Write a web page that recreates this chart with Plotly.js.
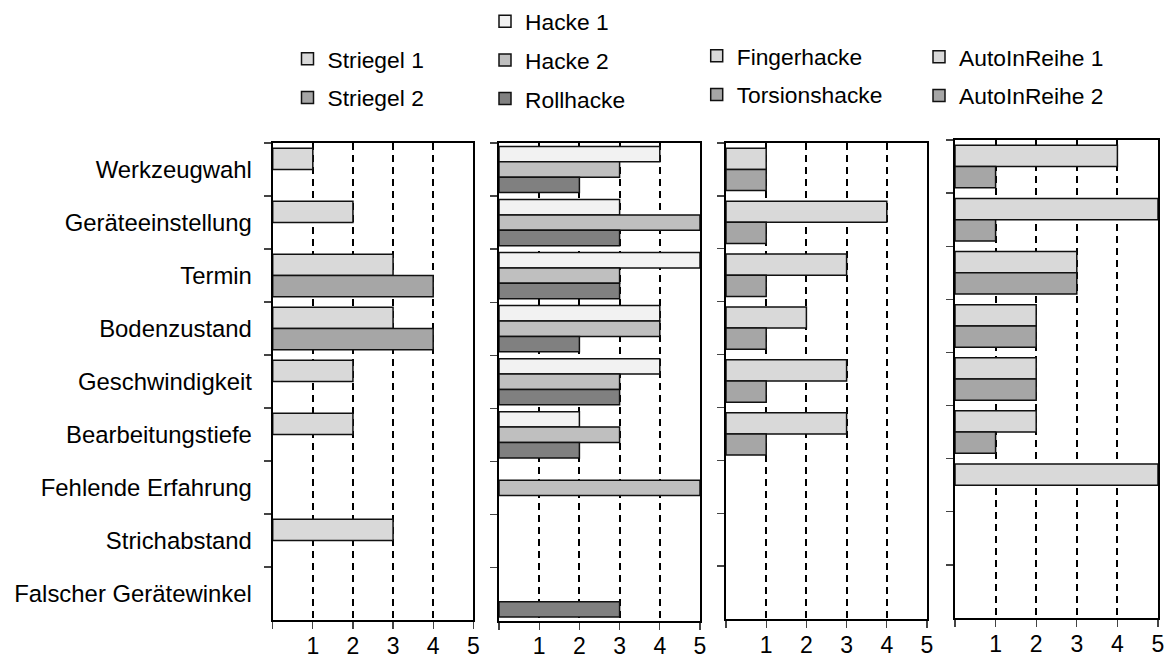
<!DOCTYPE html>
<html>
<head>
<meta charset="utf-8">
<script src="https://cdn.plot.ly/plotly-3.0.1.min.js"></script>
<style>
html,body{margin:0;padding:0;background:#fff;}
#chart{width:1171px;height:658px;}
</style>
</head>
<body>
<div id="chart"></div>
<script>
// ---- data ----
const categories = ["Werkzeugwahl","Geräteeinstellung","Termin","Bodenzustand","Geschwindigkeit","Bearbeitungstiefe","Fehlende Erfahrung","Strichabstand","Falscher Gerätewinkel"];
const xTickVals = [0,1,2,3,4,5];
const xTickText = ["","1","2","3","4","5"];

const striegel1 = [1,2,3,3,2,2,null,3,null];
const striegel2 = [null,null,4,4,null,null,null,null,null];

const hacke1    = [4,3,5,4,4,2,null,null,null];
const hacke2    = [3,5,3,4,3,3,5,null,null];
const rollhacke = [2,3,3,2,3,2,null,null,3];

const fingerhacke   = [1,4,3,2,3,3,null,null,null];
const torsionshacke = [1,1,1,1,1,1,null,null,null];

const autoInReihe1 = [4,5,3,2,2,2,5,null,null];
const autoInReihe2 = [1,1,3,2,2,1,null,null,null];

// ---- styling ----
const FONT = "Liberation Sans, Arial, sans-serif";
const C_LIGHT = "#d9d9d9", C_MID = "#a6a6a6", C_VLIGHT = "#f2f2f2", C_H2 = "#bfbfbf", C_DARK = "#808080";
const outline = {color:"#111", width:1.5};

function bar(name, vals, color, xa, ya, width, offset, legend){
  return {
    type:"bar", orientation:"h", name:name, x:vals, y:categories,
    xaxis:xa, yaxis:ya, width:width, offset:offset,
    marker:{color:color, line:outline},
    legend:legend, legendgroup:name, hoverinfo:"skip"
  };
}

const W2 = 0.4, W3 = 0.29;
const traces = [
  bar("Striegel 1", striegel1, C_LIGHT, "x", "y", W2, -0.4, "legend"),
  bar("Striegel 2", striegel2, C_MID, "x", "y", W2, 0, "legend"),
  bar("Hacke 1", hacke1, C_VLIGHT, "x2", "y2", W3, -0.435, "legend2"),
  bar("Hacke 2", hacke2, C_H2, "x2", "y2", W3, -0.145, "legend2"),
  bar("Rollhacke", rollhacke, C_DARK, "x2", "y2", W3, 0.145, "legend2"),
  bar("Fingerhacke", fingerhacke, C_LIGHT, "x3", "y3", W2, -0.4, "legend3"),
  bar("Torsionshacke", torsionshacke, C_MID, "x3", "y3", W2, 0, "legend3"),
  bar("AutoInReihe 1", autoInReihe1, C_LIGHT, "x4", "y4", W2, -0.4, "legend4"),
  bar("AutoInReihe 2", autoInReihe2, C_MID, "x4", "y4", W2, 0, "legend4")
];

const Wpx = 1171, Hpx = 658;
function xd(a,b){ return [a/Wpx, b/Wpx]; }
function yd(top,bottom){ return [1-bottom/Hpx, 1-top/Hpx]; }

function xaxis(dom, anchor){
  return {
    domain:dom, anchor:anchor, range:[0,5], fixedrange:true,
    tickvals:xTickVals, ticktext:xTickText,
    ticks:"outside", ticklen:7, tickwidth:1.3, tickcolor:"#444",
    showgrid:true, gridcolor:"#000", gridwidth:2, griddash:"7px,5px",
    zeroline:false, showline:true, linecolor:"#000", linewidth:2, mirror:true,
    tickfont:{family:FONT, size:23, color:"#000"}, ticklabelstandoff:-3,
    automargin:false
  };
}
function yaxis(dom, anchor, showLabels){
  return {
    domain:dom, anchor:anchor, type:"category",
    categoryorder:"array", categoryarray:categories,
    range:[8.5,-0.5], fixedrange:true, tickson:"boundaries",
    ticks:"outside", ticklen:7, tickwidth:1.3, tickcolor:"#444",
    showgrid:false, zeroline:false, showline:true, linecolor:"#000", linewidth:2, mirror:true,
    showticklabels:showLabels, automargin:false,
    tickfont:{family:FONT, size:23.9, color:"#000"}, ticklabelstandoff:14
  };
}
function legendAt(leftPx, topPx){
  return {
    xref:"paper", yref:"paper",
    x:leftPx/Wpx, y:1-topPx/Hpx, xanchor:"left", yanchor:"top",
    bgcolor:"rgba(0,0,0,0)", borderwidth:0,
    traceorder:"grouped", tracegroupgap:6,
    font:{family:FONT, size:22.8, color:"#000"}
  };
}

const layout = {
  width:Wpx, height:Hpx,
  margin:{l:0,r:0,t:0,b:0,pad:0, autoexpand:false},
  paper_bgcolor:"#fff", plot_bgcolor:"#fff",
  barmode:"group", showlegend:true,
  font:{family:FONT, color:"#000"},
  xaxis:xaxis(xd(272.7,473.3),"y"),
  xaxis2:xaxis(xd(499,700),"y2"),
  xaxis3:xaxis(xd(726,927),"y3"),
  xaxis4:xaxis(xd(955,1158),"y4"),
  yaxis:yaxis(yd(143,620),"x",true),
  yaxis2:yaxis(yd(143,620.5),"x2",false),
  yaxis3:yaxis(yd(143,619),"x3",false),
  yaxis4:yaxis(yd(140,618),"x4",false),
  legend:legendAt(287.5,37.5),
  legend2:legendAt(485,0),
  legend3:legendAt(696.7,34.5),
  legend4:legendAt(919,35.5)
};

Plotly.newPlot("chart", traces, layout, {staticPlot:true, displayModeBar:false});
</script>
</body>
</html>
